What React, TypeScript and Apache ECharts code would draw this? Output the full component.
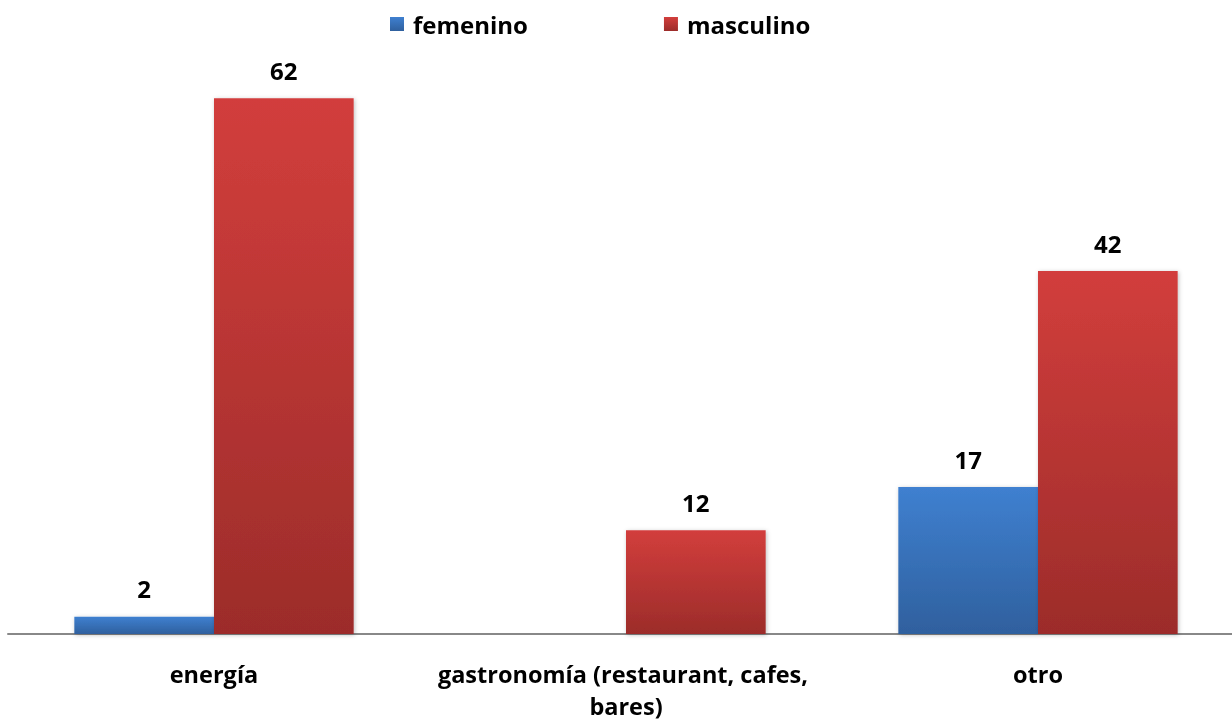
import React, { useEffect, useRef } from "react";
import * as echarts from "echarts";

const categories = ["energía", "gastronomía (restaurant, cafes, bares)", "otro"];
const femenino: (number | null)[] = [2, null, 17];
const masculino: (number | null)[] = [62, 12, 42];
const seriesNames = ["femenino", "masculino"];

const FONT = "'Open Sans', sans-serif";

export default function App() {
  const ref = useRef<HTMLDivElement>(null);
  useEffect(() => {
    if (!ref.current) return;
    const chart = echarts.init(ref.current, null, { renderer: "svg" });
    const grad = (top: string, bottom: string) =>
      new echarts.graphic.LinearGradient(0, 0, 0, 1, [
        { offset: 0, color: top },
        { offset: 1, color: bottom },
      ]);
    const label = {
      show: true,
      position: "top",
      distance: 16,
      fontFamily: FONT,
      fontWeight: "bold",
      fontSize: 24,
      color: "#000",
    };
    chart.setOption({
      animation: false,
      legend: {
        top: 7,
        left: 385,
        itemWidth: 14,
        itemHeight: 14,
        itemGap: 136,
        icon: "rect",
        textStyle: {
          fontFamily: FONT,
          fontWeight: "bold",
          fontSize: 24,
          color: "#000",
          padding: [0, 0, 0, 4],
        },
        data: seriesNames,
      },
      grid: {
        left: 8,
        width: 1236,
        top: 29,
        bottom: 87,
        containLabel: false,
        outerBoundsMode: "none",
      },
      xAxis: {
        type: "category",
        data: categories,
        axisLine: { lineStyle: { color: "#888", width: 2 } },
        axisTick: { show: false },
        axisLabel: {
          margin: 24,
          fontFamily: FONT,
          fontWeight: "bold",
          fontSize: 23.5,
          color: "#000",
          lineHeight: 32,
          width: 400,
          overflow: "break",
          interval: 0,
        },
      },
      yAxis: { type: "value", min: 0, max: 70, show: false, splitLine: { show: false } },
      series: [
        {
          name: seriesNames[0],
          type: "bar",
          data: femenino,
          barWidth: "33.9%",
          barGap: "0%",
          itemStyle: {
            color: grad("#3F80D0", "#2F609E"),
            shadowColor: "rgba(0,0,0,0.25)",
            shadowBlur: 4,
            shadowOffsetX: 1,
            shadowOffsetY: 1,
          },
          label,
        },
        {
          name: seriesNames[1],
          type: "bar",
          data: masculino,
          barWidth: "33.9%",
          barGap: "0%",
          itemStyle: {
            color: grad("#D23E3C", "#9C2C2A"),
            shadowColor: "rgba(0,0,0,0.25)",
            shadowBlur: 4,
            shadowOffsetX: 1,
            shadowOffsetY: 1,
          },
          label,
        },
      ],
    });
    return () => chart.dispose();
  }, []);
  return (
    <div
      ref={ref}
      style={{ position: "fixed", left: 0, top: 0, width: 1232, height: 721 }}
    />
  );
}
